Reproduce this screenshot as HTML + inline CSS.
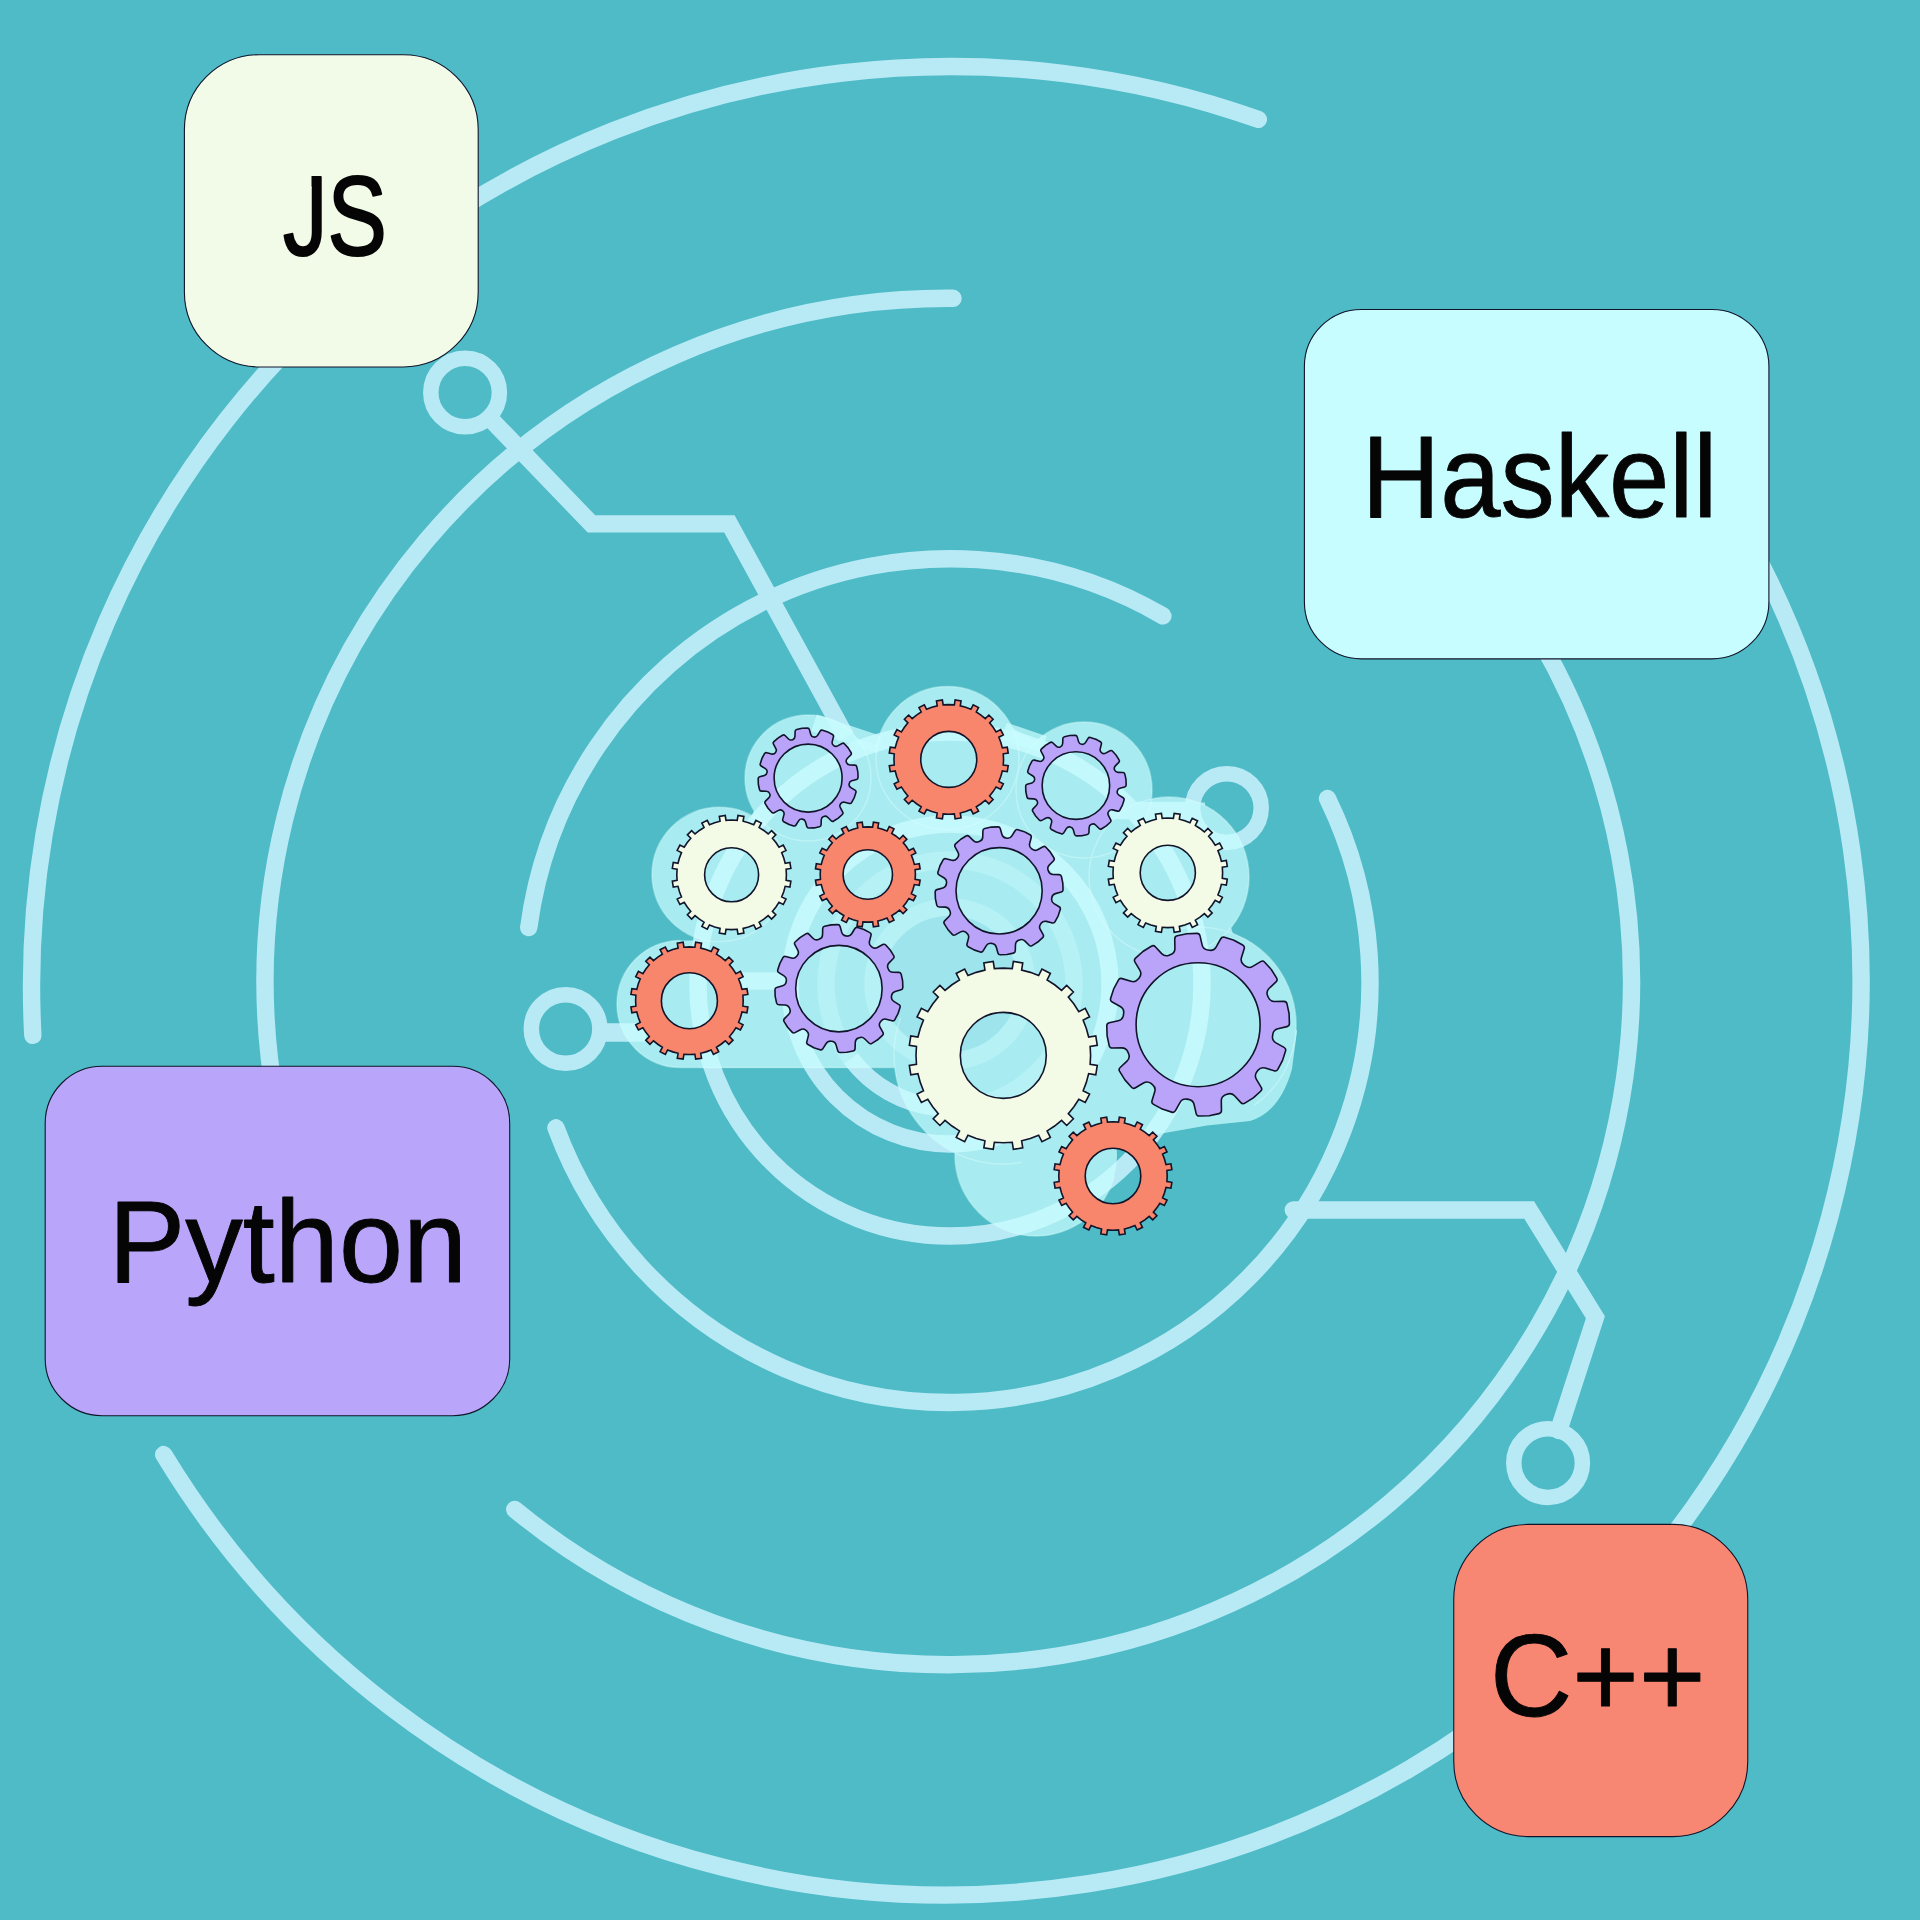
<!DOCTYPE html>
<html lang="en"><head><meta charset="utf-8"><title>Programming languages</title>
<style>
html,body{margin:0;padding:0;background:#4EBBC6;}
svg{display:block;}
text{font-family:"Liberation Sans",sans-serif;}
</style></head><body>
<svg width="1920" height="1920" viewBox="0 0 1920 1920">
<rect width="1920" height="1920" fill="#4EBBC6"/>
<g fill="none" stroke="#B8EAF6" stroke-width="17.4" stroke-linecap="round" stroke-linejoin="miter">
<path d="M1258.35,119.39A919.50,919.50 0 0 0 32.83,1035.41"/>
<path d="M163.70,1454.58A915.00,915.00 0 0 0 1742.04,528.84"/>
<path d="M953.00,298.32A683.20,683.20 0 0 0 275.44,1099.92"/>
<path d="M514.74,1509.50A683.20,683.20 0 0 0 1540.02,639.99"/>
<path d="M1162.89,615.87A425.00,425.00 0 0 0 528.72,927.60"/>
<path d="M555.94,1127.83A420.00,420.00 0 1 0 1327.53,798.46"/>
<path d="M1202.00,984.00A252.00,252.00 0 1 0 698.00,984.00A252.00,252.00 0 1 0 1202.00,984.00Z"/>
<path d="M1110.00,984.00A160.00,160.00 0 1 0 790.00,984.00A160.00,160.00 0 1 0 1110.00,984.00Z"/>
<circle cx="465.1" cy="392.5" r="34.3" stroke-width="15.5"/>
<path d="M488.87,417.23L591.4,523.9L729.4,523.9L846,737" stroke-linecap="butt"/>
<circle cx="1548.1" cy="1463.1" r="34.3" stroke-width="15.5"/>
<path d="M1293.3,1210L1529.2,1210L1595.4,1317.3L1558.68,1430.47"/>
<circle cx="565.6" cy="1029" r="34.3" stroke-width="15.5"/>
<path d="M599.9,1032.5L646,1032.5" stroke-linecap="butt" stroke-width="18.6"/>
<circle cx="1226.9" cy="808.1" r="34.3" stroke-width="15.5"/>
<path d="M1192.6000000000001,810.5L1110,810.5" stroke-linecap="butt"/>
<path d="M937.04,1107.32A124.00,124.00 0 0 1 850.97,1058.63" stroke-linecap="butt"/>
<path d="M1074.00,984.00A124.00,124.00 0 1 0 826.00,984.00A124.00,124.00 0 1 0 1074.00,984.00Z" stroke-opacity="0.5"/>
<path d="M1027.00,984.00A77.00,77.00 0 1 0 873.00,984.00A77.00,77.00 0 1 0 1027.00,984.00Z" stroke-opacity="0.5"/>
<path d="M735,981L790,981" stroke-linecap="butt"/>
</g>
<g fill="#C8FDFF" opacity="0.74"><circle cx="808" cy="778" r="63"/><circle cx="947.5" cy="758" r="71.5"/><circle cx="1084" cy="790" r="68"/><circle cx="719.2" cy="874.5" r="67.2"/><circle cx="1169" cy="877" r="80"/><circle cx="1198" cy="1025" r="98"/><circle cx="1003" cy="1055" r="109"/><circle cx="1036" cy="1155" r="81"/><rect x="617" y="940.5" width="300" height="127" rx="63.5"/><rect x="1130" y="802.5" width="75" height="30"/><path d="M700,941L754,811L845,735L882,746L1008,726L1040,743L1140,803L1200,830L1235,940L1297,1031L1292,1069Q1280,1112 1250,1121L1207,1125.5L1159,1134L1100,1140L1000,1130L900,1067.5L700,1067.5Z"/></g>
<g fill="none" stroke="#C8FDFF" stroke-width="17.4" opacity="0.74"><path d="M814,722.8L880,744.7"/><path d="M1004,731L1044,744.5"/></g>
<circle cx="950" cy="984" r="68" fill="#7ccfe0" opacity="0.22"/>
<g fill="none" stroke="#dcffff" stroke-width="1.5" opacity="0.4"><circle cx="808" cy="778" r="63"/><circle cx="947.5" cy="758" r="71.5"/><circle cx="1084" cy="790" r="68"/><circle cx="719.2" cy="874.5" r="67.2"/><circle cx="1169" cy="877" r="80"/><path d="M1180.98,928.49A98.00,98.00 0 0 1 1254.21,1105.28"/><path d="M1021.93,1162.34A109.00,109.00 0 0 1 900.57,1017.72"/><path d="M1114.24,1175.96A81.00,81.00 0 0 1 955.11,1150.76"/><path d="M680.5,940.5A63.5,63.5 0 0 0 680.5,1067.5L894,1067.5"/></g>
<g stroke="#12142a" stroke-width="1.6" stroke-linejoin="miter" fill-rule="evenodd">
<path fill="#F3FBE7" d="M737.20,820.29L737.95,815.54L743.87,816.48L743.12,821.22L748.53,822.68L753.77,824.69L755.96,820.40L761.29,823.12L759.11,827.41L763.81,830.47L768.17,833.99L771.57,830.59L775.81,834.83L772.41,838.23L775.93,842.59L778.99,847.29L783.28,845.11L786.00,850.44L781.71,852.63L783.72,857.87L785.18,863.28L789.92,862.53L790.86,868.45L786.11,869.20L786.40,874.80L786.11,880.40L790.86,881.15L789.92,887.07L785.18,886.32L783.72,891.73L781.71,896.97L786.00,899.16L783.28,904.49L778.99,902.31L775.93,907.01L772.41,911.37L775.81,914.77L771.57,919.01L768.17,915.61L763.81,919.13L759.11,922.19L761.29,926.48L755.96,929.20L753.77,924.91L748.53,926.92L743.12,928.38L743.87,933.12L737.95,934.06L737.20,929.31L731.60,929.60L726.00,929.31L725.25,934.06L719.33,933.12L720.08,928.38L714.67,926.92L709.43,924.91L707.24,929.20L701.91,926.48L704.09,922.19L699.39,919.13L695.03,915.61L691.63,919.01L687.39,914.77L690.79,911.37L687.27,907.01L684.21,902.31L679.92,904.49L677.20,899.16L681.49,896.97L679.48,891.73L678.02,886.32L673.28,887.07L672.34,881.15L677.09,880.40L676.80,874.80L677.09,869.20L672.34,868.45L673.28,862.53L678.02,863.28L679.48,857.87L681.49,852.63L677.20,850.44L679.92,845.11L684.21,847.29L687.27,842.59L690.79,838.23L687.39,834.83L691.63,830.59L695.03,833.99L699.39,830.47L704.09,827.41L701.91,823.12L707.24,820.40L709.43,824.69L714.67,822.68L720.08,821.22L719.33,816.48L725.25,815.54L726.00,820.29L731.60,820.00ZM758.60,874.80A27.00,27.00 0 1 0 704.60,874.80A27.00,27.00 0 1 0 758.60,874.80Z"/>
<path fill="#F7866C" d="M872.62,827.15L873.41,822.20L878.63,823.03L877.84,827.97L882.51,829.23L887.02,830.95L889.29,826.49L894.00,828.89L891.73,833.35L895.78,835.99L899.54,839.03L903.08,835.48L906.82,839.22L903.27,842.76L906.31,846.52L908.95,850.57L913.41,848.30L915.81,853.01L911.35,855.28L913.07,859.79L914.33,864.46L919.27,863.67L920.10,868.89L915.15,869.68L915.40,874.50L915.15,879.32L920.10,880.11L919.27,885.33L914.33,884.54L913.07,889.21L911.35,893.72L915.81,895.99L913.41,900.70L908.95,898.43L906.31,902.48L903.27,906.24L906.82,909.78L903.08,913.52L899.54,909.97L895.78,913.01L891.73,915.65L894.00,920.11L889.29,922.51L887.02,918.05L882.51,919.77L877.84,921.03L878.63,925.97L873.41,926.80L872.62,921.85L867.80,922.10L862.98,921.85L862.19,926.80L856.97,925.97L857.76,921.03L853.09,919.77L848.58,918.05L846.31,922.51L841.60,920.11L843.87,915.65L839.82,913.01L836.06,909.97L832.52,913.52L828.78,909.78L832.33,906.24L829.29,902.48L826.65,898.43L822.19,900.70L819.79,895.99L824.25,893.72L822.53,889.21L821.27,884.54L816.33,885.33L815.50,880.11L820.45,879.32L820.20,874.50L820.45,869.68L815.50,868.89L816.33,863.67L821.27,864.46L822.53,859.79L824.25,855.28L819.79,853.01L822.19,848.30L826.65,850.57L829.29,846.52L832.33,842.76L828.78,839.22L832.52,835.48L836.06,839.03L839.82,835.99L843.87,833.35L841.60,828.89L846.31,826.49L848.58,830.95L853.09,829.23L857.76,827.97L856.97,823.03L862.19,822.20L862.98,827.15L867.80,826.90ZM892.50,874.50A24.70,24.70 0 1 0 843.10,874.50A24.70,24.70 0 1 0 892.50,874.50Z"/>
<path fill="#F7866C" d="M954.34,704.89L955.13,699.94L961.06,700.88L960.28,705.83L965.68,707.28L970.91,709.28L973.19,704.82L978.54,707.55L976.27,712.01L980.96,715.07L985.32,718.58L988.86,715.04L993.11,719.29L989.57,722.83L993.08,727.19L996.14,731.88L1000.60,729.61L1003.33,734.96L998.87,737.24L1000.87,742.47L1002.32,747.87L1007.27,747.09L1008.21,753.02L1003.26,753.81L1003.55,759.40L1003.26,764.99L1008.21,765.78L1007.27,771.71L1002.32,770.93L1000.87,776.33L998.87,781.56L1003.33,783.84L1000.60,789.19L996.14,786.92L993.08,791.61L989.57,795.97L993.11,799.51L988.86,803.76L985.32,800.22L980.96,803.73L976.27,806.79L978.54,811.25L973.19,813.98L970.91,809.52L965.68,811.52L960.28,812.97L961.06,817.92L955.13,818.86L954.34,813.91L948.75,814.20L943.16,813.91L942.37,818.86L936.44,817.92L937.22,812.97L931.82,811.52L926.59,809.52L924.31,813.98L918.96,811.25L921.23,806.79L916.54,803.73L912.18,800.22L908.64,803.76L904.39,799.51L907.93,795.97L904.42,791.61L901.36,786.92L896.90,789.19L894.17,783.84L898.63,781.56L896.63,776.33L895.18,770.93L890.23,771.71L889.29,765.78L894.24,764.99L893.95,759.40L894.24,753.81L889.29,753.02L890.23,747.09L895.18,747.87L896.63,742.47L898.63,737.24L894.17,734.96L896.90,729.61L901.36,731.88L904.42,727.19L907.93,722.83L904.39,719.29L908.64,715.04L912.18,718.58L916.54,715.07L921.23,712.01L918.96,707.55L924.31,704.82L926.59,709.28L931.82,707.28L937.22,705.83L936.44,700.88L942.37,699.94L943.16,704.89L948.75,704.60ZM976.75,759.40A28.00,28.00 0 1 0 920.75,759.40A28.00,28.00 0 1 0 976.75,759.40Z"/>
<path fill="#F3FBE7" d="M1173.39,818.29L1174.18,813.34L1180.11,814.28L1179.33,819.23L1184.73,820.68L1189.96,822.68L1192.24,818.22L1197.59,820.95L1195.32,825.41L1200.01,828.47L1204.37,831.98L1207.91,828.44L1212.16,832.69L1208.62,836.23L1212.13,840.59L1215.19,845.28L1219.65,843.01L1222.38,848.36L1217.92,850.64L1219.92,855.87L1221.37,861.27L1226.32,860.49L1227.26,866.42L1222.31,867.21L1222.60,872.80L1222.31,878.39L1227.26,879.18L1226.32,885.11L1221.37,884.33L1219.92,889.73L1217.92,894.96L1222.38,897.24L1219.65,902.59L1215.19,900.32L1212.13,905.01L1208.62,909.37L1212.16,912.91L1207.91,917.16L1204.37,913.62L1200.01,917.13L1195.32,920.19L1197.59,924.65L1192.24,927.38L1189.96,922.92L1184.73,924.92L1179.33,926.37L1180.11,931.32L1174.18,932.26L1173.39,927.31L1167.80,927.60L1162.21,927.31L1161.42,932.26L1155.49,931.32L1156.27,926.37L1150.87,924.92L1145.64,922.92L1143.36,927.38L1138.01,924.65L1140.28,920.19L1135.59,917.13L1131.23,913.62L1127.69,917.16L1123.44,912.91L1126.98,909.37L1123.47,905.01L1120.41,900.32L1115.95,902.59L1113.22,897.24L1117.68,894.96L1115.68,889.73L1114.23,884.33L1109.28,885.11L1108.34,879.18L1113.29,878.39L1113.00,872.80L1113.29,867.21L1108.34,866.42L1109.28,860.49L1114.23,861.27L1115.68,855.87L1117.68,850.64L1113.22,848.36L1115.95,843.01L1120.41,845.28L1123.47,840.59L1126.98,836.23L1123.44,832.69L1127.69,828.44L1131.23,831.98L1135.59,828.47L1140.28,825.41L1138.01,820.95L1143.36,818.22L1145.64,822.68L1150.87,820.68L1156.27,819.23L1155.49,814.28L1161.42,813.34L1162.21,818.29L1167.80,818.00ZM1195.40,872.80A27.60,27.60 0 1 0 1140.20,872.80A27.60,27.60 0 1 0 1195.40,872.80Z"/>
<path fill="#F7866C" d="M694.89,947.18L695.67,942.24L701.50,943.16L700.72,948.10L706.03,949.53L711.16,951.50L713.43,947.03L718.69,949.72L716.42,954.18L721.02,957.17L725.30,960.63L728.84,957.09L733.01,961.26L729.47,964.80L732.93,969.08L735.92,973.68L740.38,971.41L743.07,976.67L738.60,978.94L740.57,984.07L742.00,989.38L746.94,988.60L747.86,994.43L742.92,995.21L743.20,1000.70L742.92,1006.19L747.86,1006.97L746.94,1012.80L742.00,1012.02L740.57,1017.33L738.60,1022.46L743.07,1024.73L740.38,1029.99L735.92,1027.72L732.93,1032.32L729.47,1036.60L733.01,1040.14L728.84,1044.31L725.30,1040.77L721.02,1044.23L716.42,1047.22L718.69,1051.68L713.43,1054.37L711.16,1049.90L706.03,1051.87L700.72,1053.30L701.50,1058.24L695.67,1059.16L694.89,1054.22L689.40,1054.50L683.91,1054.22L683.13,1059.16L677.30,1058.24L678.08,1053.30L672.77,1051.87L667.64,1049.90L665.37,1054.37L660.11,1051.68L662.38,1047.22L657.78,1044.23L653.50,1040.77L649.96,1044.31L645.79,1040.14L649.33,1036.60L645.87,1032.32L642.88,1027.72L638.42,1029.99L635.73,1024.73L640.20,1022.46L638.23,1017.33L636.80,1012.02L631.86,1012.80L630.94,1006.97L635.88,1006.19L635.60,1000.70L635.88,995.21L630.94,994.43L631.86,988.60L636.80,989.38L638.23,984.07L640.20,978.94L635.73,976.67L638.42,971.41L642.88,973.68L645.87,969.08L649.33,964.80L645.79,961.26L649.96,957.09L653.50,960.63L657.78,957.17L662.38,954.18L660.11,949.72L665.37,947.03L667.64,951.50L672.77,949.53L678.08,948.10L677.30,943.16L683.13,942.24L683.91,947.18L689.40,946.90ZM717.40,1000.70A28.00,28.00 0 1 0 661.40,1000.70A28.00,28.00 0 1 0 717.40,1000.70Z"/>
<path fill="#F3FBE7" d="M1012.25,968.56L1013.37,961.44L1022.75,962.92L1021.63,970.05L1030.28,972.37L1038.64,975.57L1041.92,969.15L1050.38,973.46L1047.10,979.89L1054.61,984.77L1061.58,990.40L1066.68,985.31L1073.39,992.02L1068.30,997.12L1073.93,1004.09L1078.81,1011.60L1085.24,1008.32L1089.55,1016.78L1083.13,1020.06L1086.33,1028.42L1088.65,1037.07L1095.78,1035.95L1097.26,1045.33L1090.14,1046.45L1090.60,1055.40L1090.14,1064.35L1097.26,1065.47L1095.78,1074.85L1088.65,1073.73L1086.33,1082.38L1083.13,1090.74L1089.55,1094.02L1085.24,1102.48L1078.81,1099.20L1073.93,1106.71L1068.30,1113.68L1073.39,1118.78L1066.68,1125.49L1061.58,1120.40L1054.61,1126.03L1047.10,1130.91L1050.38,1137.34L1041.92,1141.65L1038.64,1135.23L1030.28,1138.43L1021.63,1140.75L1022.75,1147.88L1013.37,1149.36L1012.25,1142.24L1003.30,1142.70L994.35,1142.24L993.23,1149.36L983.85,1147.88L984.97,1140.75L976.32,1138.43L967.96,1135.23L964.68,1141.65L956.22,1137.34L959.50,1130.91L951.99,1126.03L945.02,1120.40L939.92,1125.49L933.21,1118.78L938.30,1113.68L932.67,1106.71L927.79,1099.20L921.36,1102.48L917.05,1094.02L923.47,1090.74L920.27,1082.38L917.95,1073.73L910.82,1074.85L909.34,1065.47L916.46,1064.35L916.00,1055.40L916.46,1046.45L909.34,1045.33L910.82,1035.95L917.95,1037.07L920.27,1028.42L923.47,1020.06L917.05,1016.78L921.36,1008.32L927.79,1011.60L932.67,1004.09L938.30,997.12L933.21,992.02L939.92,985.31L945.02,990.40L951.99,984.77L959.50,979.89L956.22,973.46L964.68,969.15L967.96,975.57L976.32,972.37L984.97,970.05L983.85,962.92L993.23,961.44L994.35,968.56L1003.30,968.10ZM1046.30,1055.40A43.00,43.00 0 1 0 960.30,1055.40A43.00,43.00 0 1 0 1046.30,1055.40Z"/>
<path fill="#F7866C" d="M1118.53,1122.08L1119.31,1117.14L1125.19,1118.07L1124.40,1123.01L1129.75,1124.45L1134.92,1126.43L1137.19,1121.97L1142.49,1124.67L1140.22,1129.13L1144.86,1132.15L1149.16,1135.63L1152.70,1132.09L1156.91,1136.30L1153.37,1139.84L1156.85,1144.14L1159.87,1148.78L1164.33,1146.51L1167.03,1151.81L1162.57,1154.08L1164.55,1159.25L1165.99,1164.60L1170.93,1163.81L1171.86,1169.69L1166.92,1170.47L1167.20,1176.00L1166.92,1181.53L1171.86,1182.31L1170.93,1188.19L1165.99,1187.40L1164.55,1192.75L1162.57,1197.92L1167.03,1200.19L1164.33,1205.49L1159.87,1203.22L1156.85,1207.86L1153.37,1212.16L1156.91,1215.70L1152.70,1219.91L1149.16,1216.37L1144.86,1219.85L1140.22,1222.87L1142.49,1227.33L1137.19,1230.03L1134.92,1225.57L1129.75,1227.55L1124.40,1228.99L1125.19,1233.93L1119.31,1234.86L1118.53,1229.92L1113.00,1230.20L1107.47,1229.92L1106.69,1234.86L1100.81,1233.93L1101.60,1228.99L1096.25,1227.55L1091.08,1225.57L1088.81,1230.03L1083.51,1227.33L1085.78,1222.87L1081.14,1219.85L1076.84,1216.37L1073.30,1219.91L1069.09,1215.70L1072.63,1212.16L1069.15,1207.86L1066.13,1203.22L1061.67,1205.49L1058.97,1200.19L1063.43,1197.92L1061.45,1192.75L1060.01,1187.40L1055.07,1188.19L1054.14,1182.31L1059.08,1181.53L1058.80,1176.00L1059.08,1170.47L1054.14,1169.69L1055.07,1163.81L1060.01,1164.60L1061.45,1159.25L1063.43,1154.08L1058.97,1151.81L1061.67,1146.51L1066.13,1148.78L1069.15,1144.14L1072.63,1139.84L1069.09,1136.30L1073.30,1132.09L1076.84,1135.63L1081.14,1132.15L1085.78,1129.13L1083.51,1124.67L1088.81,1121.97L1091.08,1126.43L1096.25,1124.45L1101.60,1123.01L1100.81,1118.07L1106.69,1117.14L1107.47,1122.08L1113.00,1121.80ZM1140.80,1176.00A27.80,27.80 0 1 0 1085.20,1176.00A27.80,27.80 0 1 0 1140.80,1176.00Z"/>
<path fill="#B9A4FA" d="M792.67,739.65Q794.90,738.76 794.96,736.36L795.10,731.41Q795.14,729.81 796.70,729.47L801.98,728.33Q801.99,728.32 802.00,728.32L807.39,728.16Q808.99,728.11 809.42,729.65L810.75,734.42Q811.39,736.73 813.77,737.06L813.96,737.09Q816.34,737.43 817.60,735.38L820.19,731.16Q821.02,729.80 822.55,730.29L827.69,731.93Q827.70,731.94 827.70,731.94L832.46,734.49Q833.87,735.25 833.47,736.80L832.23,741.59Q831.63,743.92 833.53,745.40L833.68,745.52Q835.57,747.00 837.68,745.85L842.04,743.49Q843.44,742.73 844.52,743.92L848.14,747.91Q848.15,747.92 848.16,747.93L851.00,752.52Q851.84,753.88 850.72,755.02L847.25,758.55Q845.57,760.27 846.47,762.49L846.55,762.67Q847.44,764.90 849.84,764.96L854.79,765.10Q856.39,765.14 856.73,766.70L857.87,771.98Q857.88,771.99 857.88,772.00L858.04,777.39Q858.09,778.99 856.55,779.42L851.78,780.75Q849.47,781.39 849.14,783.77L849.11,783.96Q848.77,786.34 850.82,787.60L855.04,790.19Q856.40,791.02 855.91,792.55L854.27,797.69Q854.26,797.70 854.26,797.70L851.71,802.46Q850.95,803.87 849.40,803.47L844.61,802.23Q842.28,801.63 840.80,803.53L840.68,803.68Q839.20,805.57 840.35,807.68L842.71,812.04Q843.47,813.44 842.28,814.52L838.29,818.14Q838.28,818.15 838.27,818.16L833.68,821.00Q832.32,821.84 831.18,820.72L827.65,817.25Q825.93,815.57 823.71,816.47L823.53,816.55Q821.30,817.44 821.24,819.84L821.10,824.79Q821.06,826.39 819.50,826.73L814.22,827.87Q814.21,827.88 814.20,827.88L808.81,828.04Q807.21,828.09 806.78,826.55L805.45,821.78Q804.81,819.47 802.43,819.14L802.24,819.11Q799.86,818.77 798.60,820.82L796.01,825.04Q795.18,826.40 793.65,825.91L788.51,824.27Q788.50,824.26 788.50,824.26L783.74,821.71Q782.33,820.95 782.73,819.40L783.97,814.61Q784.57,812.28 782.67,810.80L782.52,810.68Q780.63,809.20 778.52,810.35L774.16,812.71Q772.76,813.47 771.68,812.28L768.06,808.29Q768.05,808.28 768.04,808.27L765.20,803.68Q764.36,802.32 765.48,801.18L768.95,797.65Q770.63,795.93 769.73,793.71L769.65,793.53Q768.76,791.30 766.36,791.24L761.41,791.10Q759.81,791.06 759.47,789.50L758.33,784.22Q758.32,784.21 758.32,784.20L758.16,778.81Q758.11,777.21 759.65,776.78L764.42,775.45Q766.73,774.81 767.06,772.43L767.09,772.24Q767.43,769.86 765.38,768.60L761.16,766.01Q759.80,765.18 760.29,763.65L761.93,758.51Q761.94,758.50 761.94,758.50L764.49,753.74Q765.25,752.33 766.80,752.73L771.59,753.97Q773.92,754.57 775.40,752.67L775.52,752.52Q777.00,750.63 775.85,748.52L773.49,744.16Q772.73,742.76 773.92,741.68L777.91,738.06Q777.92,738.05 777.93,738.04L782.52,735.20Q783.88,734.36 785.02,735.48L788.55,738.95Q790.27,740.63 792.49,739.73ZM842.10,778.10A34.00,34.00 0 1 0 774.10,778.10A34.00,34.00 0 1 0 842.10,778.10Z"/>
<path fill="#B9A4FA" d="M1060.36,746.88Q1062.59,745.98 1062.67,743.58L1062.85,738.61Q1062.90,737.01 1064.47,736.67L1069.74,735.53Q1069.75,735.53 1069.76,735.52L1075.16,735.36Q1076.75,735.31 1077.20,736.85L1078.57,741.63Q1079.23,743.93 1081.61,744.27L1081.80,744.29Q1084.18,744.63 1085.45,742.59L1088.09,738.38Q1088.94,737.02 1090.46,737.51L1095.60,739.16Q1095.61,739.16 1095.62,739.16L1100.38,741.72Q1101.79,742.47 1101.40,744.03L1100.20,748.85Q1099.62,751.18 1101.51,752.66L1101.67,752.78Q1103.56,754.26 1105.68,753.13L1110.07,750.80Q1111.48,750.05 1112.56,751.23L1116.19,755.23Q1116.19,755.24 1116.20,755.25L1119.04,759.83Q1119.88,761.19 1118.77,762.35L1115.32,765.93Q1113.65,767.65 1114.55,769.88L1114.62,770.06Q1115.52,772.29 1117.92,772.37L1122.89,772.55Q1124.49,772.60 1124.83,774.17L1125.97,779.44Q1125.97,779.45 1125.98,779.46L1126.14,784.86Q1126.19,786.45 1124.65,786.90L1119.87,788.27Q1117.57,788.93 1117.23,791.31L1117.21,791.50Q1116.87,793.88 1118.91,795.15L1123.12,797.79Q1124.48,798.64 1123.99,800.16L1122.34,805.30Q1122.34,805.31 1122.34,805.32L1119.78,810.08Q1119.03,811.49 1117.47,811.10L1112.65,809.90Q1110.32,809.32 1108.84,811.21L1108.72,811.37Q1107.24,813.26 1108.37,815.38L1110.70,819.77Q1111.45,821.18 1110.27,822.26L1106.27,825.89Q1106.26,825.89 1106.25,825.90L1101.67,828.74Q1100.31,829.58 1099.15,828.47L1095.57,825.02Q1093.85,823.35 1091.62,824.25L1091.44,824.32Q1089.21,825.22 1089.13,827.62L1088.95,832.59Q1088.90,834.19 1087.33,834.53L1082.06,835.67Q1082.05,835.67 1082.04,835.68L1076.64,835.84Q1075.05,835.89 1074.60,834.35L1073.23,829.57Q1072.57,827.27 1070.19,826.93L1070.00,826.91Q1067.62,826.57 1066.35,828.61L1063.71,832.82Q1062.86,834.18 1061.34,833.69L1056.20,832.04Q1056.19,832.04 1056.18,832.04L1051.42,829.48Q1050.01,828.73 1050.40,827.17L1051.60,822.35Q1052.18,820.02 1050.29,818.54L1050.13,818.42Q1048.24,816.94 1046.12,818.07L1041.73,820.40Q1040.32,821.15 1039.24,819.97L1035.61,815.97Q1035.61,815.96 1035.60,815.95L1032.76,811.37Q1031.92,810.01 1033.03,808.85L1036.48,805.27Q1038.15,803.55 1037.25,801.32L1037.18,801.14Q1036.28,798.91 1033.88,798.83L1028.91,798.65Q1027.31,798.60 1026.97,797.03L1025.83,791.76Q1025.83,791.75 1025.82,791.74L1025.66,786.34Q1025.61,784.75 1027.15,784.30L1031.93,782.93Q1034.23,782.27 1034.57,779.89L1034.59,779.70Q1034.93,777.32 1032.89,776.05L1028.68,773.41Q1027.32,772.56 1027.81,771.04L1029.46,765.90Q1029.46,765.89 1029.46,765.88L1032.02,761.12Q1032.77,759.71 1034.33,760.10L1039.15,761.30Q1041.48,761.88 1042.96,759.99L1043.08,759.83Q1044.56,757.94 1043.43,755.82L1041.10,751.43Q1040.35,750.02 1041.53,748.94L1045.53,745.31Q1045.54,745.31 1045.55,745.30L1050.13,742.46Q1051.49,741.62 1052.65,742.73L1056.23,746.18Q1057.95,747.85 1060.18,746.95ZM1109.65,785.60A33.75,33.75 0 1 0 1042.15,785.60A33.75,33.75 0 1 0 1109.65,785.60Z"/>
<path fill="#B9A4FA" d="M979.69,841.30Q982.66,840.10 982.74,836.90L982.91,830.77Q982.96,828.87 984.82,828.47L991.27,827.09Q991.28,827.09 991.29,827.09L997.88,826.87Q999.78,826.80 1000.29,828.63L1001.93,834.54Q1002.79,837.63 1005.96,838.07L1007.04,838.23Q1010.21,838.67 1011.88,835.94L1015.09,830.71Q1016.09,829.10 1017.89,829.68L1024.17,831.71Q1024.18,831.71 1024.19,831.72L1030.01,834.82Q1031.69,835.72 1031.21,837.56L1029.68,843.50Q1028.88,846.60 1031.40,848.57L1032.26,849.24Q1034.79,851.21 1037.60,849.68L1042.99,846.76Q1044.66,845.85 1045.94,847.26L1050.36,852.16Q1050.37,852.17 1050.37,852.18L1053.86,857.78Q1054.86,859.39 1053.53,860.75L1049.23,865.13Q1046.99,867.41 1048.19,870.38L1048.60,871.39Q1049.80,874.36 1053.00,874.44L1059.13,874.61Q1061.03,874.66 1061.43,876.52L1062.81,882.97Q1062.81,882.98 1062.81,882.99L1063.03,889.58Q1063.10,891.48 1061.27,891.99L1055.36,893.63Q1052.27,894.49 1051.83,897.66L1051.67,898.74Q1051.23,901.91 1053.96,903.58L1059.19,906.79Q1060.80,907.79 1060.22,909.59L1058.19,915.87Q1058.19,915.88 1058.18,915.89L1055.08,921.71Q1054.18,923.39 1052.34,922.91L1046.40,921.38Q1043.30,920.58 1041.33,923.10L1040.66,923.96Q1038.69,926.49 1040.22,929.30L1043.14,934.69Q1044.05,936.36 1042.64,937.64L1037.74,942.06Q1037.73,942.07 1037.72,942.07L1032.12,945.56Q1030.51,946.56 1029.15,945.23L1024.77,940.93Q1022.49,938.69 1019.52,939.89L1018.51,940.30Q1015.54,941.50 1015.46,944.70L1015.29,950.83Q1015.24,952.73 1013.38,953.13L1006.93,954.51Q1006.92,954.51 1006.91,954.51L1000.32,954.73Q998.42,954.80 997.91,952.97L996.27,947.06Q995.41,943.97 992.24,943.53L991.16,943.37Q987.99,942.93 986.32,945.66L983.11,950.89Q982.11,952.50 980.31,951.92L974.03,949.89Q974.02,949.89 974.01,949.88L968.19,946.78Q966.51,945.88 966.99,944.04L968.52,938.10Q969.32,935.00 966.80,933.03L965.94,932.36Q963.41,930.39 960.60,931.92L955.21,934.84Q953.54,935.75 952.26,934.34L947.84,929.44Q947.83,929.43 947.83,929.42L944.34,923.82Q943.34,922.21 944.67,920.85L948.97,916.47Q951.21,914.19 950.01,911.22L949.60,910.21Q948.40,907.24 945.20,907.16L939.07,906.99Q937.17,906.94 936.77,905.08L935.39,898.63Q935.39,898.62 935.39,898.61L935.17,892.02Q935.10,890.12 936.93,889.61L942.84,887.97Q945.93,887.11 946.37,883.94L946.53,882.86Q946.97,879.69 944.24,878.02L939.01,874.81Q937.40,873.81 937.98,872.01L940.01,865.73Q940.01,865.72 940.02,865.71L943.12,859.89Q944.02,858.21 945.86,858.69L951.80,860.22Q954.90,861.02 956.87,858.50L957.54,857.64Q959.51,855.11 957.98,852.30L955.06,846.91Q954.15,845.24 955.56,843.96L960.46,839.54Q960.47,839.53 960.48,839.53L966.08,836.04Q967.69,835.04 969.05,836.37L973.43,840.67Q975.71,842.91 978.68,841.71ZM1042.20,890.80A43.10,43.10 0 1 0 956.00,890.80A43.10,43.10 0 1 0 1042.20,890.80Z"/>
<path fill="#B9A4FA" d="M819.49,939.10Q822.46,937.90 822.54,934.70L822.71,928.57Q822.76,926.67 824.62,926.27L831.07,924.89Q831.08,924.89 831.09,924.89L837.68,924.67Q839.58,924.60 840.09,926.43L841.73,932.34Q842.59,935.43 845.76,935.87L846.84,936.03Q850.01,936.47 851.68,933.74L854.89,928.51Q855.89,926.90 857.69,927.48L863.97,929.51Q863.98,929.51 863.99,929.52L869.81,932.62Q871.49,933.52 871.01,935.36L869.48,941.30Q868.68,944.40 871.20,946.37L872.06,947.04Q874.59,949.01 877.40,947.48L882.79,944.56Q884.46,943.65 885.74,945.06L890.16,949.96Q890.17,949.97 890.17,949.98L893.66,955.58Q894.66,957.19 893.33,958.55L889.03,962.93Q886.79,965.21 887.99,968.18L888.40,969.19Q889.60,972.16 892.80,972.24L898.93,972.41Q900.83,972.46 901.23,974.32L902.61,980.77Q902.61,980.78 902.61,980.79L902.83,987.38Q902.90,989.28 901.07,989.79L895.16,991.43Q892.07,992.29 891.63,995.46L891.47,996.54Q891.03,999.71 893.76,1001.38L898.99,1004.59Q900.60,1005.59 900.02,1007.39L897.99,1013.67Q897.99,1013.68 897.98,1013.69L894.88,1019.51Q893.98,1021.19 892.14,1020.71L886.20,1019.18Q883.10,1018.38 881.13,1020.90L880.46,1021.76Q878.49,1024.29 880.02,1027.10L882.94,1032.49Q883.85,1034.16 882.44,1035.44L877.54,1039.86Q877.53,1039.87 877.52,1039.87L871.92,1043.36Q870.31,1044.36 868.95,1043.03L864.57,1038.73Q862.29,1036.49 859.32,1037.69L858.31,1038.10Q855.34,1039.30 855.26,1042.50L855.09,1048.63Q855.04,1050.53 853.18,1050.93L846.73,1052.31Q846.72,1052.31 846.71,1052.31L840.12,1052.53Q838.22,1052.60 837.71,1050.77L836.07,1044.86Q835.21,1041.77 832.04,1041.33L830.96,1041.17Q827.79,1040.73 826.12,1043.46L822.91,1048.69Q821.91,1050.30 820.11,1049.72L813.83,1047.69Q813.82,1047.69 813.81,1047.68L807.99,1044.58Q806.31,1043.68 806.79,1041.84L808.32,1035.90Q809.12,1032.80 806.60,1030.83L805.74,1030.16Q803.21,1028.19 800.40,1029.72L795.01,1032.64Q793.34,1033.55 792.06,1032.14L787.64,1027.24Q787.63,1027.23 787.63,1027.22L784.14,1021.62Q783.14,1020.01 784.47,1018.65L788.77,1014.27Q791.01,1011.99 789.81,1009.02L789.40,1008.01Q788.20,1005.04 785.00,1004.96L778.87,1004.79Q776.97,1004.74 776.57,1002.88L775.19,996.43Q775.19,996.42 775.19,996.41L774.97,989.82Q774.90,987.92 776.73,987.41L782.64,985.77Q785.73,984.91 786.17,981.74L786.33,980.66Q786.77,977.49 784.04,975.82L778.81,972.61Q777.20,971.61 777.78,969.81L779.81,963.53Q779.81,963.52 779.82,963.51L782.92,957.69Q783.82,956.01 785.66,956.49L791.60,958.02Q794.70,958.82 796.67,956.30L797.34,955.44Q799.31,952.91 797.78,950.10L794.86,944.71Q793.95,943.04 795.36,941.76L800.26,937.34Q800.27,937.33 800.28,937.33L805.88,933.84Q807.49,932.84 808.85,934.17L813.23,938.47Q815.51,940.71 818.48,939.51ZM882.10,988.60A43.20,43.20 0 1 0 795.70,988.60A43.20,43.20 0 1 0 882.10,988.60Z"/>
<path fill="#B9A4FA" d="M1170.72,954.55Q1174.99,952.82 1174.91,948.23L1174.74,938.95Q1174.70,936.35 1177.24,935.80L1186.92,933.71Q1186.93,933.71 1186.94,933.71L1196.83,933.39Q1199.43,933.31 1200.02,935.84L1202.10,944.89Q1203.14,949.37 1207.69,950.01L1209.47,950.26Q1214.02,950.90 1216.25,946.87L1220.75,938.76Q1222.01,936.48 1224.48,937.28L1233.91,940.31Q1233.92,940.31 1233.93,940.32L1242.66,944.99Q1244.95,946.22 1244.19,948.71L1241.47,957.58Q1240.13,961.98 1243.75,964.81L1245.16,965.91Q1248.79,968.75 1252.73,966.38L1260.69,961.60Q1262.91,960.26 1264.66,962.18L1271.31,969.52Q1271.31,969.53 1271.32,969.54L1276.54,977.95Q1277.91,980.16 1276.01,981.93L1269.22,988.26Q1265.86,991.40 1267.58,995.66L1268.25,997.32Q1269.98,1001.59 1274.57,1001.51L1283.85,1001.34Q1286.45,1001.30 1287.00,1003.84L1289.09,1013.52Q1289.09,1013.53 1289.09,1013.54L1289.41,1023.43Q1289.49,1026.03 1286.96,1026.62L1277.91,1028.70Q1273.43,1029.74 1272.79,1034.29L1272.54,1036.07Q1271.90,1040.62 1275.93,1042.85L1284.04,1047.35Q1286.32,1048.61 1285.52,1051.08L1282.49,1060.51Q1282.49,1060.52 1282.48,1060.53L1277.81,1069.26Q1276.58,1071.55 1274.09,1070.79L1265.22,1068.07Q1260.82,1066.73 1257.99,1070.35L1256.89,1071.76Q1254.05,1075.39 1256.42,1079.33L1261.20,1087.29Q1262.54,1089.51 1260.62,1091.26L1253.28,1097.91Q1253.27,1097.91 1253.26,1097.92L1244.85,1103.14Q1242.64,1104.51 1240.87,1102.61L1234.54,1095.82Q1231.40,1092.46 1227.14,1094.18L1225.48,1094.85Q1221.21,1096.58 1221.29,1101.17L1221.46,1110.45Q1221.50,1113.05 1218.96,1113.60L1209.28,1115.69Q1209.27,1115.69 1209.26,1115.69L1199.37,1116.01Q1196.77,1116.09 1196.18,1113.56L1194.10,1104.51Q1193.06,1100.03 1188.51,1099.39L1186.73,1099.14Q1182.18,1098.50 1179.95,1102.53L1175.45,1110.64Q1174.19,1112.92 1171.72,1112.12L1162.29,1109.09Q1162.28,1109.09 1162.27,1109.08L1153.54,1104.41Q1151.25,1103.18 1152.01,1100.69L1154.73,1091.82Q1156.07,1087.42 1152.45,1084.59L1151.04,1083.49Q1147.41,1080.65 1143.47,1083.02L1135.51,1087.80Q1133.29,1089.14 1131.54,1087.22L1124.89,1079.88Q1124.89,1079.87 1124.88,1079.86L1119.66,1071.45Q1118.29,1069.24 1120.19,1067.47L1126.98,1061.14Q1130.34,1058.00 1128.62,1053.74L1127.95,1052.08Q1126.22,1047.81 1121.63,1047.89L1112.35,1048.06Q1109.75,1048.10 1109.20,1045.56L1107.11,1035.88Q1107.11,1035.87 1107.11,1035.86L1106.79,1025.97Q1106.71,1023.37 1109.24,1022.78L1118.29,1020.70Q1122.77,1019.66 1123.41,1015.11L1123.66,1013.33Q1124.30,1008.78 1120.27,1006.55L1112.16,1002.05Q1109.88,1000.79 1110.68,998.32L1113.71,988.89Q1113.71,988.88 1113.72,988.87L1118.39,980.14Q1119.62,977.85 1122.11,978.61L1130.98,981.33Q1135.38,982.67 1138.21,979.05L1139.31,977.64Q1142.15,974.01 1139.78,970.07L1135.00,962.11Q1133.66,959.89 1135.58,958.14L1142.92,951.49Q1142.93,951.49 1142.94,951.48L1151.35,946.26Q1153.56,944.89 1155.33,946.79L1161.66,953.58Q1164.80,956.94 1169.06,955.22ZM1260.10,1024.70A62.00,62.00 0 1 0 1136.10,1024.70A62.00,62.00 0 1 0 1260.10,1024.70Z"/>
</g>
<rect x="184.4" y="54.75" width="293.8" height="312.2" rx="75" fill="#F2FBE8" stroke="#12142a" stroke-width="1.1"/>
<rect x="1304.4" y="309.5" width="464.5" height="349.4" rx="57" fill="#C8FDFF" stroke="#12142a" stroke-width="1.1"/>
<rect x="45.2" y="1066.3" width="464.5" height="349.4" rx="57" fill="#B9A6FA" stroke="#12142a" stroke-width="1.1"/>
<rect x="1453.75" y="1524.4" width="294" height="312.2" rx="75" fill="#F78672" stroke="#12142a" stroke-width="1.1"/>
<text transform="translate(282.90,255.4) scale(0.7806,1)" font-size="114.0" fill="#050505" stroke="#050505" stroke-width="2.2" stroke-linejoin="round">JS</text>
<text transform="translate(1361.80,517.0) scale(0.9352,1)" font-size="116.0" fill="#050505" stroke="#050505" stroke-width="0.9" stroke-linejoin="round">Haskell</text>
<text transform="translate(108.50,1281.9) scale(0.9926,1)" font-size="116.0" fill="#050505" stroke="#050505" stroke-width="0.9" stroke-linejoin="round">Python</text>
<text transform="translate(1490.00,1715.6) scale(0.9827,1)" font-size="116.0" fill="#050505" stroke="#050505" stroke-width="0.9" stroke-linejoin="round">C++</text>
<rect x="298" y="174" width="13.5" height="14" fill="#F2FBE8"/>
</svg>
</body></html>
